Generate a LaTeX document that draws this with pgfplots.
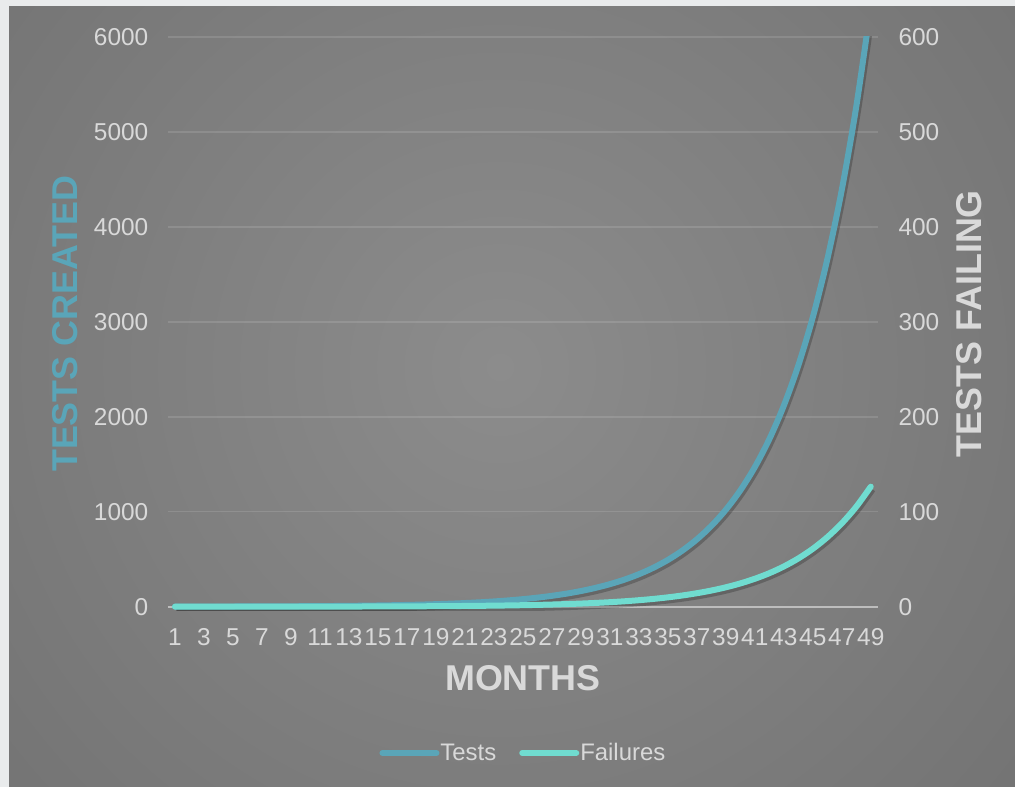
\documentclass[border=0pt]{standalone}
\usepackage{fontspec}
\setmainfont{Liberation Sans}
\usepackage{pgfplots}
\usepackage{pgfplotstable}
\pgfplotsset{compat=1.18}

\definecolor{testcol}{HTML}{5AA5B8}
\definecolor{failcol}{HTML}{70DCD0}
\definecolor{txtgray}{HTML}{D9D9D9}
\definecolor{bgin}{HTML}{8C8C8C}
\definecolor{bgout}{HTML}{626262}
\definecolor{margincol}{HTML}{E9EBEC}
\definecolor{zeroline}{HTML}{BDBDBD}

\pgfplotstableread{
month tests failures
1 1 0.020
2 1.2 0.024
3 1.44 0.029
4 1.728 0.035
5 2.074 0.041
6 2.488 0.050
7 2.986 0.060
8 3.583 0.072
9 4.300 0.086
10 5.160 0.103
11 6.192 0.124
12 7.430 0.149
13 8.916 0.178
14 10.70 0.214
15 12.84 0.257
16 15.41 0.308
17 18.49 0.370
18 22.19 0.444
19 26.62 0.532
20 31.95 0.639
21 38.34 0.767
22 46.01 0.920
23 55.21 1.104
24 66.25 1.325
25 79.50 1.590
26 95.40 1.908
27 114.5 2.290
28 137.4 2.747
29 164.8 3.297
30 197.8 3.956
31 237.4 4.748
32 284.9 5.697
33 341.8 6.836
34 410.2 8.204
35 492.2 9.845
36 590.7 11.81
37 708.8 14.18
38 850.6 17.01
39 1020.7 20.41
40 1224.8 24.50
41 1469.8 29.40
42 1763.7 35.27
43 2116.5 42.33
44 2539.8 50.80
45 3047.7 60.95
46 3657.3 73.15
47 4388.7 87.77
48 5266.5 105.3
49 6319.7 126.4
}\chartdata

\pgfplotsset{
  base/.style={
    scale only axis, width=710.25bp, height=573.5bp,
    at={(167.75bp,176.5bp)}, anchor=south west,
    xmin=0.5, xmax=49.5,
    axis line style={draw=none}, tick style={draw=none}, major tick length=0pt,
    tick label style={font=\fontsize{24.5}{28}\selectfont, text=txtgray},
    /pgf/number format/assume math mode=true,
    /pgf/number format/1000 sep={},
    scaled y ticks=false,
  },
}

\begin{document}
\begin{tikzpicture}
\path[use as bounding box] (0,0) rectangle (1015bp,787bp);
\fill[margincol] (0,0) rectangle (1015bp,787bp);
\begin{scope}
  \clip (9bp,0) rectangle (1015bp,780bp);
  \shade[inner color=bgin, outer color=bgout] (500bp,420bp) circle (1150bp);
\end{scope}

\begin{axis}[base,
  ymin=-40, ymax=6000, ytick={0,1000,...,6000},
  xtick={1,3,...,49},
  ymajorgrids, grid style={white, opacity=0.12, line width=1.5bp},
  extra y ticks={0}, extra y tick labels={},
  extra y tick style={grid style={zeroline, opacity=1, line width=2.2bp}},
  yticklabel style={xshift=-16bp},
  xticklabel style={anchor=north, text height=18bp, text depth=0bp, yshift=-13bp},
  ylabel={TESTS CREATED}, xlabel={MONTHS},
  every axis y label/.style={at={(axis description cs:0,0.5)}, anchor=center, rotate=90,
    yshift=102.75bp, text=testcol, font=\bfseries\fontsize{36}{40}\selectfont},
  every axis x label/.style={at={(axis description cs:0.5,0)}, anchor=center,
    yshift=-67.5bp, text=txtgray, font=\bfseries\fontsize{36}{40}\selectfont},
  legend style={at={(axis description cs:0.5,0)}, anchor=center, yshift=-142.5bp,
    draw=none, fill=none, text=txtgray, font=\fontsize{24}{28}\selectfont,
    legend columns=2, /tikz/every even column/.append style={column sep=22bp},
    nodes={inner sep=1bp}},
  legend image code/.code={\draw[#1, line width=6bp, line cap=round] (0bp,0bp) -- (54bp,0bp);},
]
\addplot[forget plot, black, opacity=0.22, line width=7bp, smooth, xshift=1.5bp, yshift=-2.5bp]
  table[x=month, y=tests] {\chartdata};
\addplot[testcol, line width=6bp, smooth, line cap=round] table[x=month, y=tests] {\chartdata};
\addlegendentry{Tests}
\addlegendimage{failcol, line width=6bp}
\addlegendentry{Failures}
\end{axis}

\begin{axis}[base,
  ymin=-4, ymax=600, ytick={0,100,...,600},
  xtick=\empty,
  yticklabel pos=right,
  yticklabel style={xshift=17bp},
  ylabel={TESTS FAILING},
  every axis y label/.style={at={(axis description cs:1,0.5)}, anchor=center, rotate=90,
    yshift=-91bp, text=txtgray, font=\bfseries\fontsize{36}{40}\selectfont},
]
\addplot[black, opacity=0.22, line width=7bp, smooth, xshift=1.5bp, yshift=-2.5bp]
  table[x=month, y=failures] {\chartdata};
\addplot[failcol, line width=6bp, smooth, line cap=round] table[x=month, y=failures] {\chartdata};
\end{axis}
\end{tikzpicture}
\end{document}
